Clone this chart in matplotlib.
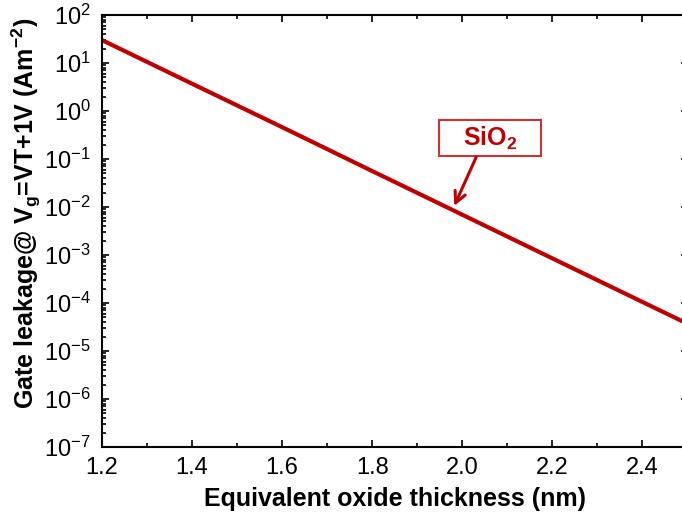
import matplotlib
matplotlib.use("Agg")
from matplotlib import pyplot as plt
from matplotlib.patches import Rectangle
from matplotlib.ticker import LogLocator, MultipleLocator, NullFormatter

# gate leakage vs EOT for SiO2
eot = [1.2, 1.4, 1.6, 1.8, 2.0, 2.2, 2.4, 2.5]
leakage = [30.0, 3.7, 0.46, 0.056, 6.9e-3, 8.5e-4, 1.05e-4, 3.7e-5]

plt.rcParams['font.family'] = ['Liberation Sans', 'DejaVu Sans']
plt.rcParams['mathtext.fontset'] = 'custom'
plt.rcParams['mathtext.rm'] = 'Liberation Sans'
plt.rcParams['mathtext.bf'] = 'Liberation Sans:bold'

red = '#C00000'

fig = plt.figure(figsize=(6.82, 5.23), dpi=100)
ax = fig.add_axes([0.1496, 0.1453, 0.8585, 0.826])

ax.plot(eot, leakage, color=red, lw=3, solid_capstyle='butt')

ax.set_yscale('log')
ax.set_xlim(1.2, 2.5)
ax.set_ylim(1e-7, 1e2)
ax.xaxis.set_major_locator(MultipleLocator(0.2))
ax.xaxis.set_minor_locator(MultipleLocator(0.1))
ax.yaxis.set_major_locator(LogLocator(base=10, numticks=20))
ax.yaxis.set_minor_locator(LogLocator(base=10, subs=range(2, 10), numticks=20))
ax.yaxis.set_minor_formatter(NullFormatter())
ax.xaxis.set_major_formatter(matplotlib.ticker.FormatStrFormatter('%.1f'))

ax.tick_params(which='both', direction='in', top=True, right=True, width=1.2)
ax.tick_params(which='major', length=5, labelsize=17)
ax.tick_params(axis='x', which='major', pad=7)
ax.tick_params(axis='y', which='major', pad=8)
ax.tick_params(which='minor', length=3)
for s in ax.spines.values():
    s.set_linewidth(1.5)

ax.set_xlabel('Equivalent oxide thickness (nm)', fontsize=18, fontweight='bold', labelpad=6)
ax.set_ylabel(r'Gate leakage@ V$_\mathbf{g}$=VT+1V (Am$^\mathbf{-2}$)',
              fontsize=18, fontweight='bold')
ax.yaxis.set_label_coords(-0.1, 0.54)

# label box with arrow
ax.add_patch(Rectangle((0.5756, 0.6736), 0.1742, 0.0834, transform=ax.transAxes,
                       fill=False, edgecolor='#CC3333', lw=1.5, clip_on=False))
ax.text(0.663, 0.715, r'SiO$_\mathbf{2}$', transform=ax.transAxes, color=red,
        fontsize=18, fontweight='bold', ha='center', va='center')
ax.annotate('', xy=(1.982, 0.0105), xycoords='data',
            xytext=(0.639, 0.671), textcoords='axes fraction',
            arrowprops=dict(arrowstyle='->', color=red, lw=2.2, mutation_scale=20,
                            shrinkA=0, shrinkB=0))

fig.savefig('out.png', dpi=100)
